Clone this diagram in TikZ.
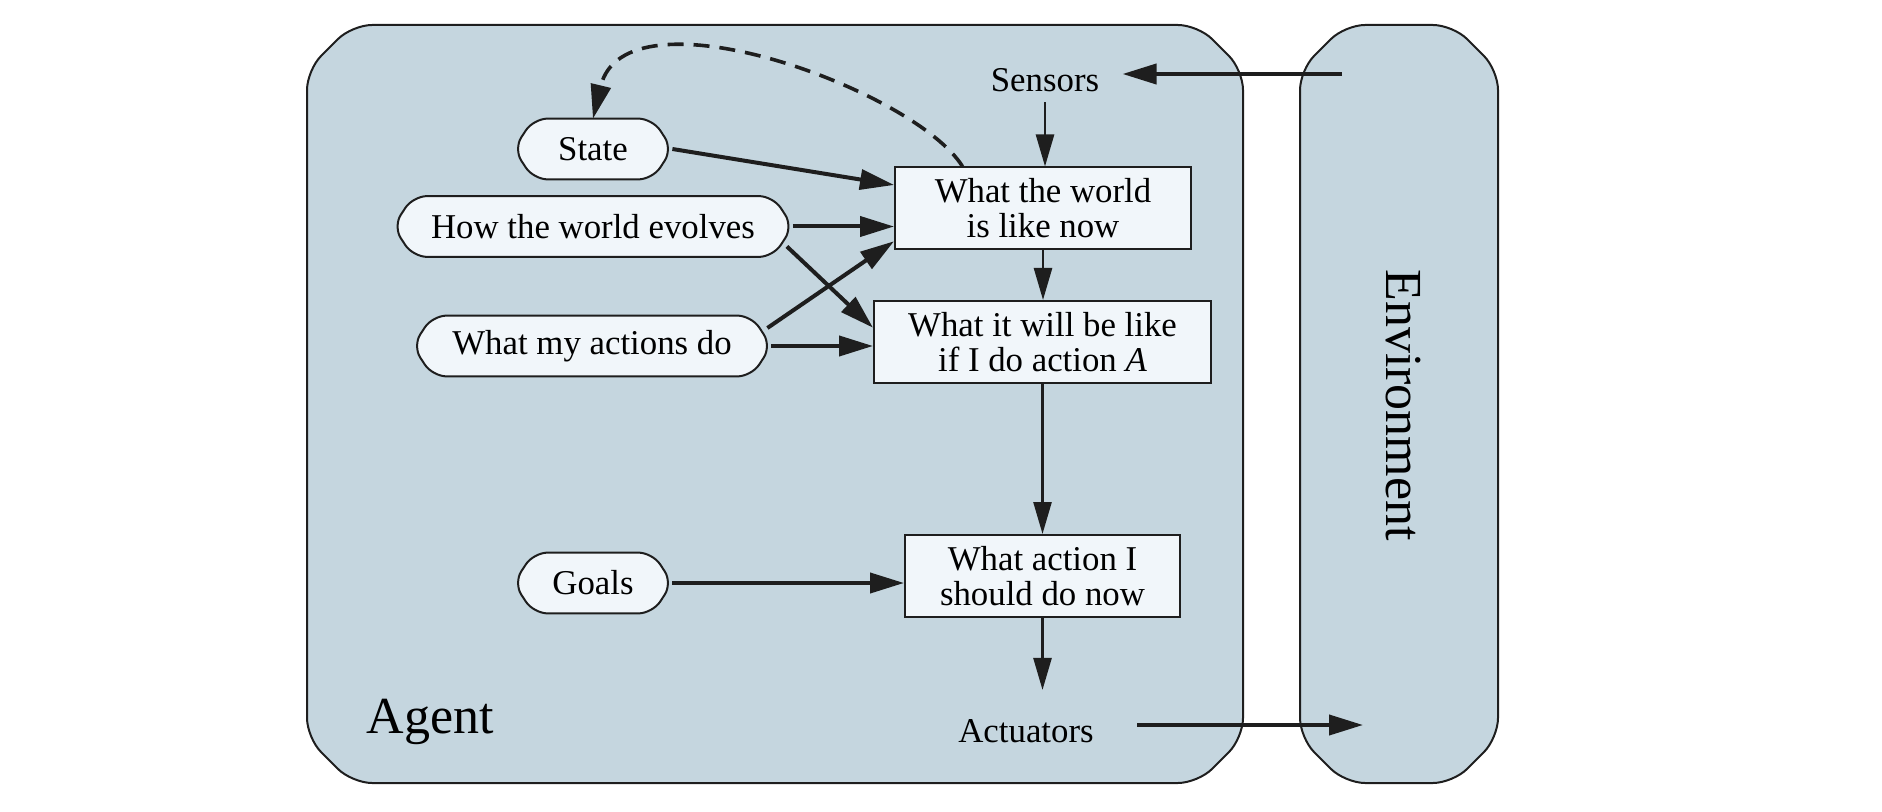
\documentclass[tikz,border=0pt]{standalone}
\usepackage{fontspec}
\setmainfont{Liberation Serif}
\usetikzlibrary{arrows.meta,calc,backgrounds}

\definecolor{agentblue}{RGB}{197,214,223}
\definecolor{boxfill}{RGB}{241,246,250}
\definecolor{edge}{RGB}{30,30,30}

\begin{document}
\begin{tikzpicture}[x=0.5pt, y=-0.5pt,
        every node/.style={font=\fontsize{17.4}{17.5}\selectfont, inner sep=0pt},
        frame/.style={fill=agentblue, draw=edge, line width=1pt, rounded corners=10pt},
        rule/.style={rectangle, draw=edge, fill=boxfill, line width=1pt, align=center, minimum height=41pt},
        pill/.style={rectangle, minimum height=30pt},
        pillshape/.style={draw=edge, fill=boxfill, line width=1pt, rounded corners=7pt},
        flow/.style={-{Triangle[length=17pt,width=10pt]}, line width=2pt, draw=edge},
        thinflow/.style={-{Triangle[length=16pt,width=9pt]}, line width=1.3pt, draw=edge},
        bigfont/.style={font=\fontsize{26}{28}\selectfont}]
    \useasboundingbox (0,0) rectangle (1882,812);

    % Rule boxes
    \node[rule, minimum width=148pt] (World) at (1043,208.5) {What the world\\is like now};
    \node[rule, minimum width=168.5pt] (Future) at (1042.5,342) {What it will be like\\if I do action \textit{A}};
    \node[rule, minimum width=137.5pt] (Decide) at (1042.5,576) {What action I\\should do now};

    % Knowledge pills (shapes drawn on the background layer)
    \node[pill, minimum width=79pt] (State) at (593,149) {State};
    \node[pill, minimum width=199.5pt] (Evolves) at (593,226.5) {How the world evolves};
    \node[pill, minimum width=179pt] (Actions) at (592,346) {What my actions do};
    \node[pill, minimum width=79pt] (Goals) at (593,583) {Goals};

    % Labels
    \node[inner sep=5pt] (Sensors) at (1045,80) {Sensors};
    \node[inner sep=5pt] (Actuators) at (1026,731) {Actuators};
    \node[bigfont] (Agent) at (430,722) {Agent};
    \node[bigfont, rotate=-90] (Env) at (1403,405) {Environment};
    \coordinate (envin) at (1342,74);
    \coordinate (envout) at (1363,725);

    % Percepts and actions
    \draw[flow, shorten >=6.5pt] (envin) -- (envin -| Sensors.east);
    \draw[thinflow] (Sensors) -- (Sensors |- World.north);
    \draw[thinflow] (World.south) -- (World.south |- Future.north);
    \draw[thinflow] (Future.south) -- (Future.south |- Decide.north);
    \draw[thinflow, shorten >=9.5pt] (Decide.south) -- (Decide.south |- Actuators.north);
    \draw[flow, shorten <=16.7pt] (Actuators.east |- envout) -- (envout);

    % Inputs from the pills
    \draw[flow] (State.east) -- ($(World.north west)!0.22!(World.south west)$);
    \draw[flow] (Evolves.east) -- (Evolves.east -| World.west);
    \draw[flow] ($(Evolves.east)+(-6,20)$) -- ($(Future.north west)!0.33!(Future.south west)$);
    \draw[flow] ($(Actions.east)+(-4,-18)$) -- ($(World.north west)!0.89!(World.south west)$);
    \draw[flow] (Actions.east) -- (Actions.east -| Future.west);
    \draw[flow] (Goals.east) -- (Goals.east -| Decide.west);

    % State update
    \draw[flow, line width=1.8pt, dash pattern=on 8pt off 5pt]
        ($(World.north west)!0.23!(World.north east)$) .. controls +(-48,-77) and +(32,-134) .. (State.north);

    \begin{scope}[on background layer]
        \draw[frame] (307,70) -- (352,25) -- (1198,25) -- (1243,70) -- (1243,738) -- (1198,783) -- (352,783) -- (307,738) -- cycle;
        \draw[frame] (1300,70) -- (1345,25) -- (1453,25) -- (1498,70) -- (1498,738) -- (1453,783) -- (1345,783) -- (1300,738) -- cycle;
        \foreach \n in {State,Evolves,Actions,Goals}
            \draw[pillshape] (\n.west) -- ($(\n.north west)+(20,0)$) -- ($(\n.north east)+(-20,0)$)
                -- (\n.east) -- ($(\n.south east)+(-20,0)$) -- ($(\n.south west)+(20,0)$) -- cycle;
    \end{scope}
\end{tikzpicture}
\end{document}
